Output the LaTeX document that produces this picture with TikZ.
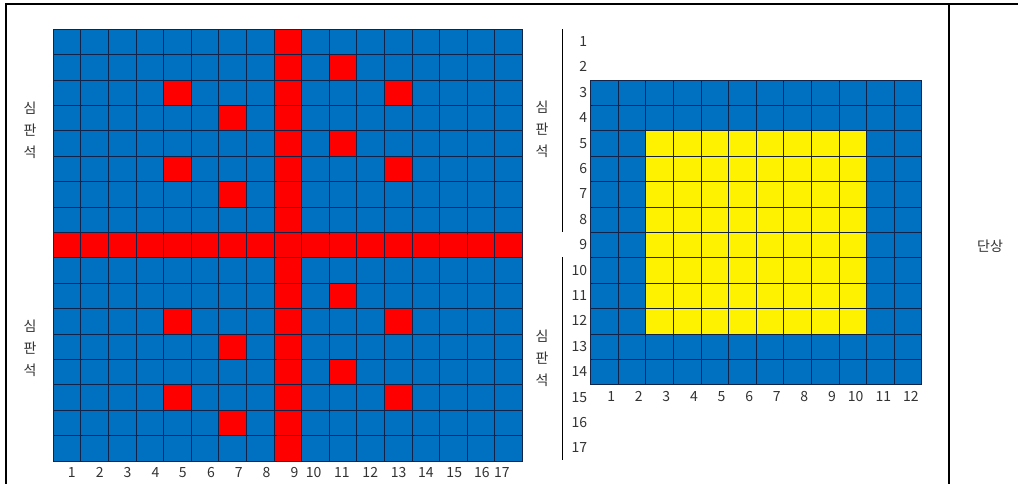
\documentclass[tikz,border=0pt]{standalone}
\usepackage{fontspec}
\setmainfont{Noto Sans CJK KR}
\definecolor{cblue}{HTML}{0070C0}
\definecolor{cgrid}{HTML}{14234A}
\definecolor{ctext}{HTML}{333333}
\tikzset{
  frameline/.style={line width=1.5pt, black},
  thinline/.style={line width=0.8pt, black},
  gridline/.style={line width=0.8pt, cgrid},
  numlabel/.style={anchor=base east, inner sep=0pt, text=ctext},
  seatlabel/.style={align=center, inner sep=0pt, text=ctext, font=\fontsize{10.5}{16.5}\selectfont},
}
\begin{document}
\begin{tikzpicture}[x=0.75pt,y=-0.75pt, font=\fontsize{10.5}{12}\selectfont]
\useasboundingbox (0,0) rectangle (1018,484);
\fill[white] (0,0) rectangle (1018,484);
% frame
\draw[frameline] (6,484) -- (6,4.5) -- (1018,4.5);
\draw[frameline] (949,4.5) -- (949,484);
% ---- left grid ----
\fill[cblue] (53.3,29.3) rectangle (522.5,461.1);
\fill[red] (274.1,29.3) rectangle (301.7,461.1);
\fill[red] (53.3,232.5) rectangle (522.5,257.9);
\foreach \r/\c in {2/11,3/5,3/13,4/7,5/11,6/5,6/13,7/7}{
  \foreach \o in {0,9}{
    \fill[red] ({53.3+(\c-1)*27.6},{29.3+(\r+\o-1)*25.4}) rectangle ++(27.6,25.4);
  }
}
\foreach \i in {0,...,17}{
  \draw[gridline] ({53.3+\i*27.6},29.3) -- ({53.3+\i*27.6},461.1);
  \draw[gridline] (53.3,{29.3+\i*25.4}) -- (522.5,{29.3+\i*25.4});
}
\foreach \c/\xe in {1/76,2/104,3/131.6,4/159.6,5/186.8,6/215.2,7/242.8,8/270.6,9/298.6,10/321.7,11/350,12/378.3,13/406.7,14/434,15/462.3,16/490,17/510}{
  \node[numlabel] (lc\c) at (\xe,477.5) {\c};
}
% ---- right grid ----
\fill[cblue] (590.7,80.1) rectangle (921.9,384.9);
\fill[yellow] (645.9,130.9) rectangle (866.7,334.1);
\foreach \i in {0,...,12}{
  \draw[gridline] ({590.7+\i*27.6},80.1) -- ({590.7+\i*27.6},384.9);
  \draw[gridline] (590.7,{80.1+\i*25.4}) -- (921.9,{80.1+\i*25.4});
}
\foreach \c in {1,...,12}{
  \node[numlabel] (rc\c) at ({590.7+\c*27.6-3},401.5) {\c};
}
\foreach \r in {1,...,17}{
  \node[numlabel] (rr\r) at (587.5,{29.3+(\r-0.5)*25.4+4.5}) {\r};
}
% separator lines
\coordinate (sa) at (562.3,29.3);
\coordinate (sb) at (562.3,232);
\coordinate (sc) at (562.3,257.5);
\coordinate (sd) at (562.3,460.5);
\draw[thinline] (sa) -- (sb);
\draw[thinline] (sc) -- (sd);
% seat labels
\node[seatlabel] (s1) at (30,130) {심\\판\\석};
\node[seatlabel] (s2) at (30,348) {심\\판\\석};
\node[seatlabel] (s3) at (542,129) {심\\판\\석};
\node[seatlabel] (s4) at (542,358) {심\\판\\석};
\node[text=ctext] (stage) at (990,246) {단상};
\end{tikzpicture}
\end{document}
